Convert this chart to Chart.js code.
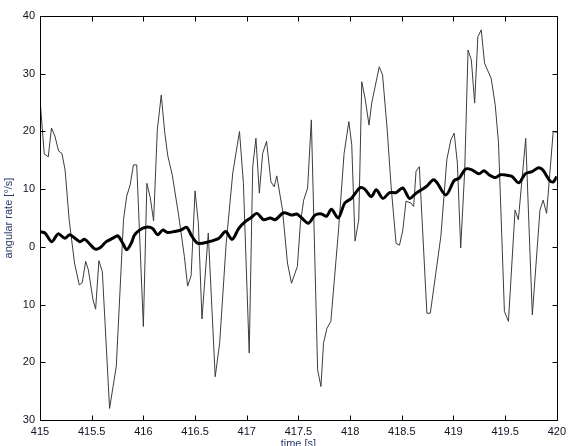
<!DOCTYPE html>
<html>
<head>
<meta charset="utf-8">
<script src="https://cdn.jsdelivr.net/npm/chart.js@4/dist/chart.umd.min.js"></script>
<style>
html,body{margin:0;padding:0;background:#fff;}
#wrap{width:571px;height:446px;position:relative;}
</style>
</head>
<body>
<div id="wrap"><canvas id="c"></canvas></div>
<script>
// Raw angular rate (thin line)
const rawTime = [415.000,415.041,415.080,415.111,415.144,415.180,415.212,415.243,415.282,415.334,415.380,415.409,415.442,415.468,415.513,415.538,415.570,415.603,415.673,415.738,415.808,415.839,415.872,415.904,415.936,416.000,416.034,416.067,416.099,416.135,416.173,416.207,416.236,416.279,416.341,416.397,416.428,416.462,416.500,416.532,416.567,416.628,416.695,416.738,416.801,416.865,416.930,416.968,417.024,417.058,417.089,417.122,417.154,417.192,417.234,417.266,417.291,417.346,417.394,417.433,417.490,417.519,417.551,417.589,417.625,417.686,417.718,417.743,417.776,417.814,417.888,417.942,417.988,418.016,418.048,418.084,418.113,418.147,418.183,418.209,418.282,418.314,418.359,418.397,418.445,418.478,418.510,418.541,418.589,418.615,418.638,418.670,418.743,418.776,418.878,418.936,418.974,419.007,419.038,419.070,419.109,419.141,419.173,419.205,419.236,419.269,419.301,419.365,419.404,419.436,419.493,419.532,419.596,419.628,419.699,419.763,419.837,419.868,419.901,419.965,420.000];
const rawRate = [25.6,16.1,15.6,20.6,19.2,16.6,16.2,13.3,4.7,-2.8,-6.6,-6.2,-2.5,-4.0,-9.2,-10.8,-2.4,-4.3,-28.0,-20.7,4.7,8.8,10.7,14.2,14.2,-13.8,11.0,8.5,4.5,20.3,26.3,19.8,15.8,12.5,5.5,-1.7,-6.8,-5.0,9.7,4.1,-12.5,2.4,-22.5,-16.7,0.6,12.8,20.0,11.0,-18.4,13.9,18.8,9.3,16.2,18.3,11.3,10.4,12.3,6.4,-2.8,-6.3,-3.4,4.1,8.1,10.2,22.0,-21.3,-24.2,-16.7,-14.1,-12.9,2.9,16.2,21.7,17.7,1.0,4.7,28.6,25.5,21.1,24.9,31.2,29.8,20.3,10.4,0.6,0.3,2.9,7.9,7.6,7.0,13.1,13.9,-11.5,-11.5,1.8,15.1,18.5,19.7,14.5,-0.2,13.3,34.1,32.4,24.9,36.4,37.6,31.8,29.2,24.6,18.0,-11.2,-12.9,6.4,4.7,18.8,-11.8,6.4,8.1,5.8,20.0,19.8];

// Filtered angular rate (thick line)
const filtTime = [415.000,415.048,415.113,415.176,415.240,415.288,415.337,415.385,415.433,415.481,415.529,415.577,415.641,415.705,415.753,415.801,415.839,415.882,415.913,415.962,416.026,416.089,416.138,416.186,416.234,416.298,416.362,416.418,416.471,416.529,416.635,416.731,416.795,416.859,416.923,416.988,417.038,417.099,417.163,417.228,417.276,417.356,417.436,417.484,417.532,417.596,417.661,417.724,417.772,417.820,417.885,417.949,418.013,418.093,418.141,418.205,418.253,418.317,418.382,418.445,418.510,418.574,418.638,418.734,418.814,418.926,419.007,419.055,419.118,419.183,419.247,419.295,419.343,419.407,419.455,419.519,419.567,419.632,419.695,419.760,419.824,419.865,419.935,419.968,420.000];
const filtRate = [2.65,2.4,0.9,2.25,1.5,2.1,1.5,0.9,1.3,0.5,-0.35,-0.2,0.9,1.5,1.9,0.6,-0.5,0.6,2.0,2.9,3.4,3.2,2.1,2.9,2.5,2.65,2.9,3.4,1.8,0.6,0.9,1.5,2.65,1.3,3.2,4.4,5.0,5.8,4.7,5.0,4.7,5.9,5.5,5.7,5.0,4.1,5.5,5.7,5.3,6.5,5.0,7.6,8.4,10.2,10.0,8.7,9.9,8.4,9.4,9.4,10.2,8.4,9.3,10.4,11.6,9.0,11.5,11.9,13.5,13.3,12.65,13.2,12.5,12.0,12.5,12.4,12.2,11.1,12.65,13.05,13.7,13.3,11.4,11.3,12.2];

// Tick values and their printed labels
const xTickValues = [415,415.5,416,416.5,417,417.5,418,418.5,419,419.5,420];
const xTickLabels = ['415','415.5','416','416.5','417','417.5','418','418.5','419','419.5','420'];
const yTickValues = [-30,-20,-10,0,10,20,30,40];
const yTickLabels = ['30','20','10','0','10','20','30','40'];

const xTitle = 'time [s]';
const yTitle = 'angular rate [°/s]';

const FONT = "'Liberation Sans', Arial, Helvetica, sans-serif";

const boxTicks = {
  id: 'boxTicks',
  afterDraw(chart) {
    const {ctx, chartArea} = chart;
    const xs = chart.scales.x, ys = chart.scales.y;
    const L = Math.round(chartArea.left) + 0.5, R = Math.round(chartArea.right) + 0.5;
    const T = Math.round(chartArea.top) + 0.5, B = Math.round(chartArea.bottom) + 0.5;
    ctx.save();
    ctx.strokeStyle = '#000';
    ctx.lineWidth = 1;
    ctx.beginPath();
    ctx.rect(L, T, R - L, B - T);
    const len = 5;
    xTickValues.forEach(v => {
      const px = Math.round(xs.getPixelForValue(v)) + 0.5;
      ctx.moveTo(px, B); ctx.lineTo(px, B - len);
      ctx.moveTo(px, T); ctx.lineTo(px, T + len);
    });
    yTickValues.forEach(v => {
      const py = Math.round(ys.getPixelForValue(v)) + 0.5;
      ctx.moveTo(L, py); ctx.lineTo(L + len, py);
      ctx.moveTo(R, py); ctx.lineTo(R - len, py);
    });
    ctx.stroke();
    ctx.restore();
  }
};

new Chart(document.getElementById('c'), {
  type: 'line',
  data: {
    datasets: [
      {
        label: 'filtered',
        data: filtTime.map((t, i) => ({x: t, y: filtRate[i]})),
        borderColor: '#000',
        borderWidth: 3,
        pointRadius: 0,
        tension: 0.3,
        fill: false
      },
      {
        label: 'raw',
        data: rawTime.map((t, i) => ({x: t, y: rawRate[i]})),
        borderColor: 'rgb(60,60,60)',
        borderWidth: 1,
        pointRadius: 0,
        tension: 0,
        fill: false
      }
    ]
  },
  options: {
    responsive: true,
    maintainAspectRatio: false,
    animation: false,
    events: [],
    layout: {padding: {left: 0, right: 11, top: 16, bottom: 0}},
    plugins: {legend: {display: false}, tooltip: {enabled: false}},
    scales: {
      x: {
        type: 'linear',
        min: 415, max: 420,
        grid: {display: false, drawTicks: false, tickLength: 0},
        border: {display: false},
        afterBuildTicks: s => { s.ticks = xTickValues.map(v => ({value: v})); },
        afterFit: s => { s.height = 26; },
        ticks: {
          autoSkip: false, maxRotation: 0, padding: 5,
          color: '#111122',
          font: {family: FONT, size: 11},
          callback: (v) => { const i = xTickValues.indexOf(v); return i >= 0 ? xTickLabels[i] : ''; }
        },
        title: {display: true, text: xTitle, color: '#2a3a66', font: {family: FONT, size: 11}, padding: {top: 0, bottom: -5}}
      },
      y: {
        type: 'linear',
        min: -30, max: 40,
        grid: {display: false, drawTicks: false, tickLength: 0},
        border: {display: false},
        afterBuildTicks: s => { s.ticks = yTickValues.map(v => ({value: v})); },
        afterFit: s => { s.width = 40; },
        ticks: {
          autoSkip: false, padding: 5,
          color: '#111122',
          font: {family: FONT, size: 11},
          callback: (v) => { const i = yTickValues.indexOf(v); return i >= 0 ? yTickLabels[i] : ''; }
        },
        title: {display: true, text: yTitle, color: '#2a3a66', font: {family: FONT, size: 11}, padding: {top: 2, bottom: 0}}
      }
    }
  },
  plugins: [boxTicks]
});
</script>
</body>
</html>
